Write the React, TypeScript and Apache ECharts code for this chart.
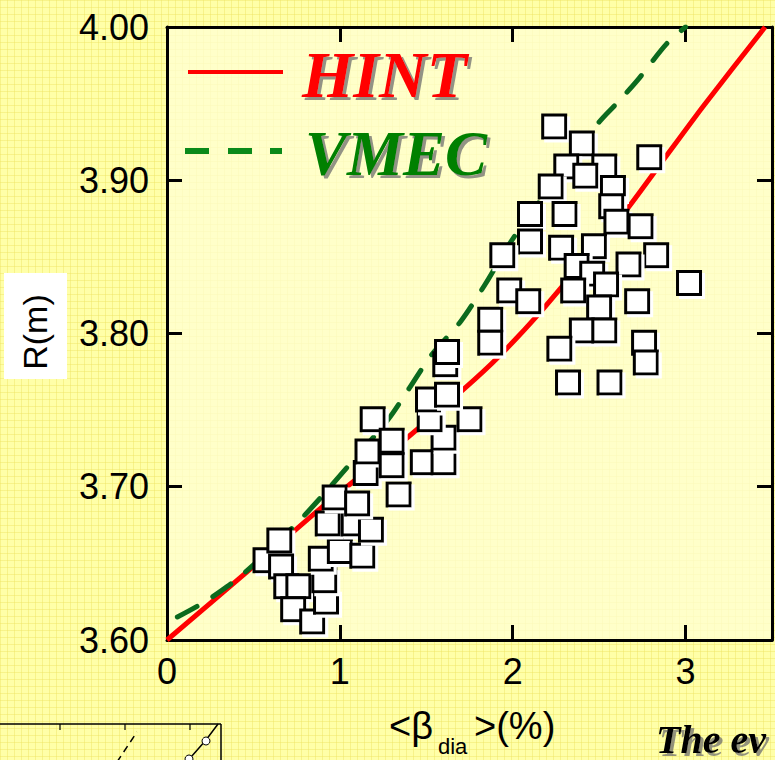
import React, { useEffect, useRef } from "react";
import * as echarts from "echarts";

// Measured radial position R versus diamagnetic beta
const measuredBeta = [
  0.57, 0.65, 0.66, 0.69, 0.76, 0.73, 0.84, 0.92, 0.91, 0.89, 1.0, 0.93, 1.08, 1.13, 1.18, 0.97, 1.1, 1.15,
  1.16, 1.19, 1.3, 1.34, 1.3,
  1.48, 1.6, 1.6, 1.52, 1.51, 1.75, 1.61, 1.62, 1.62, 1.87, 1.87,
  2.24, 2.4, 2.79, 2.53, 2.31, 2.42, 2.22, 2.58, 2.1, 2.3, 2.57, 2.6, 2.74, 2.1, 1.94, 2.28, 2.47, 2.83,
  2.37, 2.67, 2.46, 1.98, 2.09, 2.35, 2.54, 3.02, 2.72, 2.5, 2.4, 2.53, 2.27, 2.76, 2.77, 2.32, 2.56,
];
const measuredR = [
  3.652, 3.665, 3.648, 3.635, 3.635, 3.62, 3.612, 3.625, 3.639, 3.653, 3.658, 3.676, 3.676, 3.655, 3.672,
  3.693, 3.689, 3.709, 3.723, 3.744, 3.73, 3.695, 3.714,
  3.716, 3.716, 3.732, 3.744, 3.757, 3.744, 3.78, 3.788, 3.76, 3.809, 3.794,
  3.935, 3.924, 3.915, 3.909, 3.909, 3.903, 3.896, 3.895, 3.878, 3.878, 3.883, 3.873, 3.87, 3.86, 3.851,
  3.856, 3.857, 3.851, 3.844, 3.845, 3.839, 3.828, 3.821, 3.828, 3.832, 3.833, 3.821, 3.817, 3.802,
  3.802, 3.79, 3.794, 3.781, 3.768, 3.768,
];

// HINT calculation
const hintBeta = [0, 0.5, 0.9, 1.39, 1.72, 1.92, 2.16, 2.4, 2.66, 2.87, 3.1, 3.46];
const hintR = [3.6, 3.648, 3.687, 3.732, 3.764, 3.785, 3.814, 3.846, 3.881, 3.913, 3.948, 4.0];

// VMEC calculation
const vmecBeta = [0.06, 0.19, 0.35, 0.52, 0.75, 0.89, 1.06, 1.28, 1.4, 1.53, 1.7, 1.84, 1.99, 2.2, 2.5, 2.6, 2.72, 2.89, 3.0];
const vmecR = [3.615, 3.623, 3.635, 3.651, 3.676, 3.693, 3.715, 3.744, 3.764, 3.786, 3.808, 3.832, 3.86, 3.893, 3.938, 3.95, 3.965, 3.989, 4.0];

const xTicks = { min: 0, max: 3.5, interval: 1 };
const yTicks = { min: 3.6, max: 4.0, interval: 0.1 };

const SANS = "'Liberation Sans', Arial, sans-serif";
const SERIF = "'Liberation Serif', 'Times New Roman', serif";

function pairs(xs: number[], ys: number[]) {
  return xs.map((x, i) => [x, ys[i]]);
}

const shadow = {
  textShadowColor: "rgba(110,110,110,0.75)",
  textShadowBlur: 1,
  textShadowOffsetX: 3,
  textShadowOffsetY: 3,
};

export default function App() {
  const ref = useRef<HTMLDivElement>(null);

  useEffect(() => {
    if (!ref.current) return;
    const chart = echarts.init(ref.current, undefined, { renderer: "svg" });

    const frameLine = { show: true, lineStyle: { color: "#000", width: 3 } };
    const innerTick = { show: true, inside: true, length: 15, lineStyle: { color: "#000", width: 3 } };

    chart.setOption({
      animation: false,
      backgroundColor: "transparent",
      grid: {
        left: 167,
        top: 27,
        right: 3,
        bottom: 120,
        show: true,
        backgroundColor: "rgba(255,255,212,0.75)",
        borderWidth: 0,
      },
      xAxis: [
        {
          type: "value",
          position: "bottom",
          ...xTicks,
          axisLine: { ...frameLine, onZero: false },
          axisTick: innerTick,
          splitLine: { show: false },
          axisLabel: {
            color: "#000",
            fontSize: 36,
            fontFamily: SANS,
            margin: 13,
            showMaxLabel: false,
            formatter: (v: number) => String(v),
          },
        },
        {
          type: "value",
          position: "top",
          ...xTicks,
          axisLine: { ...frameLine, onZero: false },
          axisTick: innerTick,
          splitLine: { show: false },
          axisLabel: { show: false },
        },
      ],
      yAxis: [
        {
          type: "value",
          position: "left",
          ...yTicks,
          axisLine: { ...frameLine, onZero: false },
          axisTick: innerTick,
          splitLine: { show: false },
          axisLabel: {
            color: "#000",
            fontSize: 36,
            fontFamily: SANS,
            margin: 18,
            formatter: (v: number) => v.toFixed(2),
          },
        },
        {
          type: "value",
          position: "right",
          ...yTicks,
          axisLine: { ...frameLine, onZero: false },
          axisTick: innerTick,
          splitLine: { show: false },
          axisLabel: { show: false },
        },
      ],
      series: [
        {
          name: "HINT",
          type: "line",
          data: pairs(hintBeta, hintR),
          smooth: 0.2,
          symbol: "none",
          lineStyle: { color: "#ff0000", width: 5 },
          z: 2,
        },
        {
          name: "VMEC",
          type: "line",
          data: pairs(vmecBeta, vmecR),
          smooth: 0.3,
          symbol: "none",
          lineStyle: { color: "#0b6a1e", width: 5, type: [22, 19], cap: "round" },
          z: 2,
        },
        {
          name: "Experiment",
          type: "scatter",
          data: pairs(measuredBeta, measuredR),
          symbol: "rect",
          symbolSize: 23,
          itemStyle: {
            color: "#ffffff",
            borderColor: "#000000",
            borderWidth: 3,
            opacity: 1,
            shadowColor: "#ffffff",
            shadowBlur: 1,
            shadowOffsetX: 3,
            shadowOffsetY: 3,
          },
          emphasis: { disabled: true },
          z: 3,
        },
      ],
      graphic: [
        // legend
        { type: "line", shape: { x1: 188, y1: 72, x2: 283, y2: 72 }, style: { stroke: "#ff0000", lineWidth: 4 }, z: 10 },
        {
          type: "text",
          x: 302,
          y: 74,
          style: {
            text: "HINT",
            font: `italic bold 66px ${SERIF}`,
            fill: "#ff0000",
            verticalAlign: "middle",
            ...shadow,
          },
          z: 10,
        },
        { type: "line", shape: { x1: 185, y1: 151, x2: 209, y2: 151 }, style: { stroke: "#0a8a1a", lineWidth: 6 }, z: 10 },
        { type: "line", shape: { x1: 228, y1: 151, x2: 252, y2: 151 }, style: { stroke: "#0a8a1a", lineWidth: 6 }, z: 10 },
        { type: "line", shape: { x1: 270, y1: 151, x2: 282, y2: 151 }, style: { stroke: "#0a8a1a", lineWidth: 6 }, z: 10 },
        {
          type: "text",
          x: 305,
          y: 154,
          style: {
            text: "VMEC",
            font: `italic bold 63px ${SERIF}`,
            fill: "#008000",
            verticalAlign: "middle",
            ...shadow,
          },
          z: 10,
        },
        // y axis title on a white box
        { type: "rect", shape: { x: 4, y: 273, width: 63, height: 106 }, style: { fill: "#ffffff" }, z: 5 },
        {
          type: "text",
          x: 35,
          y: 332,
          rotation: Math.PI / 2,
          style: {
            text: "R(m)",
            font: `34px ${SANS}`,
            fill: "#000",
            align: "center",
            verticalAlign: "middle",
          },
          z: 6,
        },
        // x axis title with subscript
        {
          type: "text",
          x: 389,
          y: 726,
          style: { text: "<β", font: `38px ${SANS}`, fill: "#000", verticalAlign: "middle" },
          z: 6,
        },
        {
          type: "text",
          x: 438,
          y: 746,
          style: { text: "dia", font: `22px ${SANS}`, fill: "#000", verticalAlign: "middle" },
          z: 6,
        },
        {
          type: "text",
          x: 474,
          y: 726,
          style: { text: ">(%)", font: `38px ${SANS}`, fill: "#000", verticalAlign: "middle" },
          z: 6,
        },
        // neighbouring slide content
        { type: "line", shape: { x1: 0, y1: 724, x2: 221, y2: 724 }, style: { stroke: "#000", lineWidth: 1.5 }, z: 4 },
        { type: "line", shape: { x1: 221, y1: 724, x2: 221, y2: 762 }, style: { stroke: "#000", lineWidth: 1.5 }, z: 4 },
        { type: "line", shape: { x1: 60, y1: 724, x2: 60, y2: 730 }, style: { stroke: "#000", lineWidth: 1.2 }, z: 4 },
        { type: "line", shape: { x1: 125, y1: 724, x2: 125, y2: 730 }, style: { stroke: "#000", lineWidth: 1.2 }, z: 4 },
        { type: "line", shape: { x1: 190, y1: 724, x2: 190, y2: 730 }, style: { stroke: "#000", lineWidth: 1.2 }, z: 4 },
        {
          type: "line",
          shape: { x1: 117, y1: 762, x2: 137, y2: 732 },
          style: { stroke: "#000", lineWidth: 1.5, lineDash: [7, 5] },
          z: 4,
        },
        {
          type: "polyline",
          shape: { points: [[184, 765], [206, 740], [218, 724]] },
          style: { stroke: "#000", lineWidth: 1.5, fill: "none" },
          z: 4,
        },
        { type: "circle", shape: { cx: 189, cy: 759, r: 4 }, style: { fill: "#fff", stroke: "#000", lineWidth: 1 }, z: 5 },
        { type: "circle", shape: { cx: 206, cy: 741, r: 4 }, style: { fill: "#fff", stroke: "#000", lineWidth: 1 }, z: 5 },
        {
          type: "text",
          x: 656,
          y: 759,
          style: {
            text: "The ev",
            font: `italic bold 40px ${SERIF}`,
            fill: "#000",
            verticalAlign: "bottom",
            ...shadow,
          },
          z: 6,
        },
      ],
    });

    return () => chart.dispose();
  }, []);

  return (
    <div
      style={{
        position: "absolute",
        left: 0,
        top: 0,
        width: 775,
        height: 760,
        overflow: "hidden",
        backgroundColor: "#ffffa8",
        backgroundImage:
          "linear-gradient(rgba(238,228,100,0.45) 1px, transparent 1px), linear-gradient(90deg, rgba(238,228,100,0.45) 1px, transparent 1px)",
        backgroundSize: "7px 7px",
      }}
    >
      <div ref={ref} style={{ width: 775, height: 760 }} />
    </div>
  );
}
